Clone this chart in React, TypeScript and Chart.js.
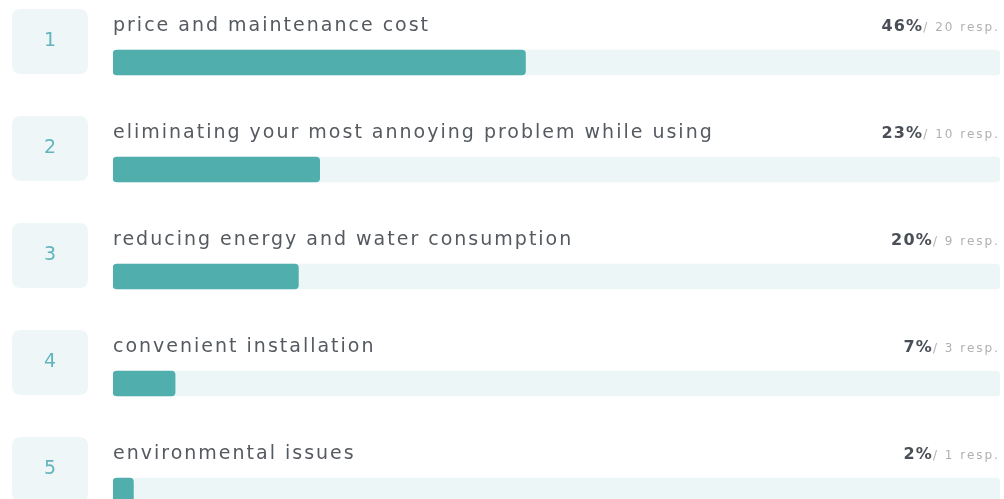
import React, { useEffect, useRef } from "react";
import { Chart, registerables } from "chart.js";

Chart.register(...registerables);

const ranks = ["1", "2", "3", "4", "5"];
const labels = [
  "price and maintenance cost",
  "eliminating your most annoying problem while using",
  "reducing energy and water consumption",
  "convenient installation",
  "environmental issues",
];
const shares = [46.5, 23.3, 20.9, 7.0, 2.3];
const percentLabels = ["46%", "23%", "20%", "7%", "2%"];
const responses = [20, 10, 9, 3, 1];
const trackValues = [100, 100, 100, 100, 100];

const BAR = "#50aeac";
const TRACK = "#edf6f7";

function rr(ctx: CanvasRenderingContext2D, x: number, y: number, w: number, h: number, r: number) {
  ctx.beginPath();
  ctx.moveTo(x + r, y);
  ctx.lineTo(x + w - r, y);
  ctx.quadraticCurveTo(x + w, y, x + w, y + r);
  ctx.lineTo(x + w, y + h - r);
  ctx.quadraticCurveTo(x + w, y + h, x + w - r, y + h);
  ctx.lineTo(x + r, y + h);
  ctx.quadraticCurveTo(x, y + h, x, y + h - r);
  ctx.lineTo(x, y + r);
  ctx.quadraticCurveTo(x, y, x + r, y);
  ctx.closePath();
}

const FONT = "'DejaVu Sans', 'Open Sans', sans-serif";

const decor = {
  id: "decor",
  afterDatasetsDraw(chart: any) {
    const ctx = chart.ctx as CanvasRenderingContext2D;
    const ys = chart.scales.y;
    const area = chart.chartArea;
    ctx.save();
    labels.forEach((lab, i) => {
      const cy = ys.getPixelForValue(i);
      // rank box
      ctx.fillStyle = "#eef6f8";
      rr(ctx, 12, cy - 53.5, 76, 65, 9);
      ctx.fill();
      ctx.fillStyle = "#62b5bd";
      ctx.font = "19px " + FONT;
      ctx.textAlign = "center";
      ctx.textBaseline = "middle";
      (ctx as any).letterSpacing = "0px";
      ctx.fillText(ranks[i], 50, cy - 21);
      // label
      ctx.textAlign = "left";
      ctx.textBaseline = "alphabetic";
      ctx.fillStyle = "#555a60";
      ctx.font = "19px " + FONT;
      (ctx as any).letterSpacing = "2px";
      ctx.fillText(lab, area.left, cy - 32);
      // right text
      ctx.textAlign = "right";
      ctx.fillStyle = "#b0b0b0";
      ctx.font = "12px " + FONT;
      (ctx as any).letterSpacing = "2px";
      const tail = "/ " + responses[i] + " resp.";
      ctx.fillText(tail, area.right, cy - 32);
      const tw = ctx.measureText(tail).width;
      ctx.fillStyle = "#4a4f57";
      ctx.font = "bold 16px " + FONT;
      (ctx as any).letterSpacing = "1.2px";
      ctx.fillText(percentLabels[i], area.right - tw, cy - 32);
    });
    ctx.restore();
  },
};

export default function App() {
  const ref = useRef<HTMLCanvasElement>(null);
  useEffect(() => {
    const chart = new Chart(ref.current!, {
      type: "bar",
      data: {
        labels,
        datasets: [
          {
            data: shares,
            backgroundColor: BAR,
            borderRadius: 4,
            borderSkipped: false,
            barThickness: 25,
            grouped: false,
            order: 0,
          } as any,
          {
            data: trackValues,
            backgroundColor: TRACK,
            borderRadius: 4,
            borderSkipped: false,
            barThickness: 25,
            grouped: false,
            order: 1,
          } as any,
        ],
      },
      options: {
        indexAxis: "y",
        responsive: false,
        animation: false,
        layout: { padding: { left: 113, right: 4, top: 9, bottom: 16 } },
        plugins: { legend: { display: false }, tooltip: { enabled: false } },
        scales: {
          x: { display: false, min: 0, max: 100 },
          y: { display: false },
        },
      },
      plugins: [decor],
    });
    return () => chart.destroy();
  }, []);
  return (
    <div style={{ position: "absolute", left: 0, top: 0, width: 1004, height: 499, overflow: "hidden", background: "#fff" }}>
      <canvas ref={ref} width={1004} height={560} />
    </div>
  );
}
